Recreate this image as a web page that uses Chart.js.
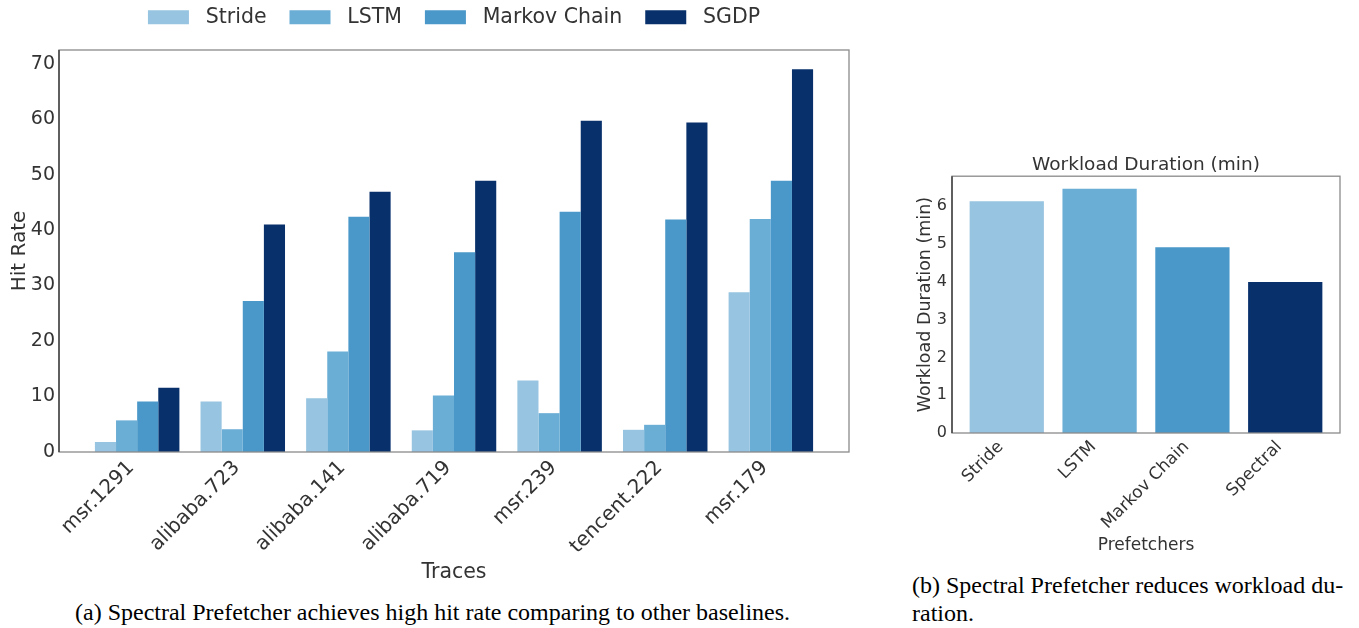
<!DOCTYPE html>
<html>
<head>
<meta charset="utf-8">
<script src="https://cdn.jsdelivr.net/npm/chart.js@4.4.1/dist/chart.umd.min.js"></script>
<style>
  body { margin: 0; background: #fff; width: 1359px; height: 628px; position: relative; overflow: hidden; }
  #hitWrap { position: absolute; left: 0; top: 0; width: 870px; height: 590px; }
  #durWrap { position: absolute; left: 890px; top: 140px; width: 460px; height: 420px; }
  .cap { position: absolute; font-family: "Liberation Serif", serif; font-size: 24px; color: #000; line-height: 28px; white-space: nowrap; }
</style>
</head>
<body>
<div id="hitWrap"><canvas id="hitChart"></canvas></div>
<div id="durWrap"><canvas id="durChart"></canvas></div>
<div class="cap" style="left:75px; top:598px;">(a) Spectral Prefetcher achieves high hit rate comparing to other baselines.</div>
<div class="cap" style="left:912px; top:571px;">(b) Spectral Prefetcher reduces workload du-<br>ration.</div>
<script>
// data
const traces = ['msr.1291', 'alibaba.723', 'alibaba.141', 'alibaba.719', 'msr.239', 'tencent.222', 'msr.179'];
const stride = [1.8, 9.1, 9.7, 3.9, 12.9, 4.0, 28.8];
const lstm = [5.7, 4.1, 18.1, 10.2, 7.0, 4.9, 42.0];
const markov = [9.1, 27.2, 42.4, 36.0, 43.3, 41.9, 48.9];
const sgdp = [11.6, 41.0, 46.9, 48.9, 59.7, 59.4, 69.0];
const hitTicks = [0, 10, 20, 30, 40, 50, 60, 70];

const prefetchers = ['Stride', 'LSTM', 'Markov Chain', 'Spectral'];
const duration = [6.13, 6.46, 4.91, 3.99];
const durTicks = [0, 1, 2, 3, 4, 5, 6];

const blues = ['#97c4e0', '#6aadd5', '#4a98c9', '#08306b'];
const txt = '#333333';
const font = 'DejaVu Sans';

// frame round the plot area, like matplotlib spines
const framePlugin = {
    id: 'frame',
    afterDatasetsDraw(chart) {
        const a = chart.chartArea, c = chart.ctx;
        c.save();
        c.strokeStyle = '#8a8a8a';
        c.lineWidth = 1.3;
        c.strokeRect(a.left, a.top, a.right - a.left, a.bottom - a.top);
        c.strokeStyle = '#333';
        c.beginPath();
        c.moveTo(a.left, a.top);
        c.lineTo(a.left, a.bottom);
        c.stroke();
        c.restore();
    }
};

// extra space below the legend
const legendGap = {
    id: 'legendGap',
    beforeInit(chart) {
        const fit = chart.legend.fit;
        chart.legend.fit = function () {
            fit.bind(chart.legend)();
            this.height += 12.5;
        };
    }
};

function toPoints(arr) {
    return arr.map((v, i) => ({ x: i, y: v }));
}

new Chart(document.getElementById('hitChart'), {
    type: 'bar',
    data: {
        datasets: [
            { label: 'Stride', data: toPoints(stride), backgroundColor: blues[0] },
            { label: 'LSTM', data: toPoints(lstm), backgroundColor: blues[1] },
            { label: 'Markov Chain', data: toPoints(markov), backgroundColor: blues[2] },
            { label: 'SGDP', data: toPoints(sgdp), backgroundColor: blues[3] }
        ]
    },
    options: {
        responsive: true,
        maintainAspectRatio: false,
        animation: false,
        categoryPercentage: 0.8,
        barPercentage: 1.0,
        layout: { padding: { top: -16, right: 21, bottom: 0, left: 0 } },
        plugins: {
            legend: {
                position: 'top',
                fullSize: false,
                labels: {
                    boxWidth: 41,
                    boxHeight: 14,
                    padding: 23,
                    color: txt,
                    font: { family: font, size: 20.5 },
                    // a leading space widens the gap between swatch and text
                    generateLabels(chart) {
                        return Chart.defaults.plugins.legend.labels.generateLabels(chart)
                            .map(l => Object.assign(l, { text: ' ' + l.text }));
                    }
                }
            },
            tooltip: { enabled: false }
        },
        scales: {
            x: {
                type: 'linear',
                min: -0.74,
                max: 6.74,
                offset: false,
                grid: { display: false, drawTicks: false },
                border: { display: false },
                afterBuildTicks(scale) { scale.ticks = traces.map((t, i) => ({ value: i })); },
                afterFit(scale) { scale.height = 138; },
                ticks: {
                    autoSkip: false,
                    maxRotation: 45,
                    minRotation: 45,
                    padding: 4,
                    labelOffset: -6,
                    color: txt,
                    font: { family: font, size: 20 },
                    callback: (v) => traces[v]
                },
                title: {
                    display: true,
                    text: 'Traces',
                    color: txt,
                    font: { family: font, size: 20.5 },
                    padding: { top: 0, bottom: 5 }
                }
            },
            y: {
                min: 0,
                max: 72.45,
                grid: { display: false, drawTicks: false },
                border: { display: false },
                afterBuildTicks(scale) { scale.ticks = hitTicks.map(v => ({ value: v })); },
                afterFit(scale) { scale.width = 59; },
                ticks: {
                    padding: 4,
                    color: txt,
                    font: { family: font, size: 19 }
                },
                title: {
                    display: true,
                    text: 'Hit Rate',
                    color: txt,
                    font: { family: font, size: 20 },
                    padding: { top: 8, bottom: 0 }
                }
            }
        }
    },
    plugins: [framePlugin, legendGap]
});

new Chart(document.getElementById('durChart'), {
    type: 'bar',
    data: {
        datasets: [{
            label: 'Workload Duration (min)',
            data: toPoints(duration),
            backgroundColor: blues
        }]
    },
    options: {
        responsive: true,
        maintainAspectRatio: false,
        animation: false,
        categoryPercentage: 1.0,
        barPercentage: 0.8,
        layout: { padding: { top: 0, right: 10, bottom: 0, left: 0 } },
        plugins: {
            legend: { display: false },
            tooltip: { enabled: false },
            title: {
                display: true,
                fullSize: false,
                text: 'Workload Duration (min)',
                color: txt,
                font: { family: font, size: 18.5, weight: 'normal' },
                padding: { top: 14, bottom: 0 }
            }
        },
        scales: {
            x: {
                type: 'linear',
                min: -0.59,
                max: 3.59,
                offset: false,
                grid: { display: false, drawTicks: false },
                border: { display: false },
                afterBuildTicks(scale) { scale.ticks = prefetchers.map((p, i) => ({ value: i })); },
                afterFit(scale) { scale.height = 127; },
                ticks: {
                    autoSkip: false,
                    maxRotation: 45,
                    minRotation: 45,
                    padding: 4,
                    labelOffset: -6,
                    color: txt,
                    font: { family: font, size: 17 },
                    callback: (v) => prefetchers[v]
                },
                title: {
                    display: true,
                    text: 'Prefetchers',
                    color: txt,
                    font: { family: font, size: 17 },
                    padding: { top: 0, bottom: 4 }
                }
            },
            y: {
                min: 0,
                max: 6.79,
                grid: { display: false, drawTicks: false },
                border: { display: false },
                afterBuildTicks(scale) { scale.ticks = durTicks.map(v => ({ value: v })); },
                afterFit(scale) { scale.width = 62; },
                ticks: {
                    padding: 5,
                    color: txt,
                    font: { family: font, size: 16 }
                },
                title: {
                    display: true,
                    text: 'Workload Duration (min)',
                    color: txt,
                    font: { family: font, size: 17.5 },
                    padding: { top: 24.5, bottom: 0 }
                }
            }
        }
    },
    plugins: [framePlugin]
});
</script>
</body>
</html>
